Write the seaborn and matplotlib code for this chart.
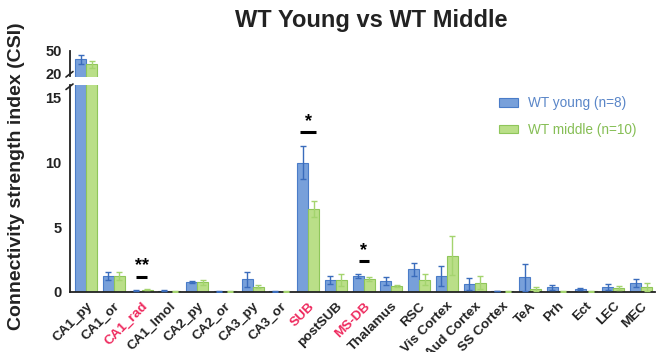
import matplotlib
matplotlib.use("Agg")
import matplotlib.pyplot as plt
from matplotlib.lines import Line2D
from matplotlib.container import BarContainer
import seaborn as sns
import pandas as pd
import numpy as np

# Regions (x categories)
regions = ["CA1_py", "CA1_or", "CA1_rad", "CA1_lmol", "CA2_py", "CA2_or",
           "CA3_py", "CA3_or", "SUB", "postSUB", "MS-DB", "Thalamus", "RSC",
           "Vis Cortex", "Aud Cortex", "SS Cortex", "TeA", "Prh", "Ect",
           "LEC", "MEC"]

# Mean CSI and SEM per group
young_mean = [39.0, 1.25, 0.08, 0.08, 0.77, 0.02, 0.98, 0.02, 10.0, 0.90, 1.23,
              0.82, 1.74, 1.23, 0.62, 0.05, 1.13, 0.34, 0.20, 0.36, 0.69]
young_sem = [5.5, 0.31, 0.02, 0.02, 0.08, 0.01, 0.58, 0.01, 1.30, 0.28, 0.17,
             0.28, 0.49, 0.77, 0.46, 0.02, 1.05, 0.17, 0.05, 0.23, 0.31]
middle_mean = [32.5, 1.20, 0.15, 0.02, 0.72, 0.02, 0.38, 0.01, 6.40, 0.90, 0.98,
               0.44, 0.92, 2.80, 0.69, 0.02, 0.23, 0.03, 0.03, 0.30, 0.36]
middle_sem = [4.5, 0.30, 0.03, 0.01, 0.20, 0.01, 0.12, 0.01, 0.60, 0.46, 0.17,
              0.10, 0.44, 1.50, 0.51, 0.01, 0.15, 0.02, 0.02, 0.14, 0.28]

group_labels = ["WT young (n=8)", "WT middle (n=10)"]
highlighted = ["CA1_rad", "SUB", "MS-DB"]

# Significance marks: (region, stars, line y, star y, half line width)
sig_marks = [("CA1_rad", "**", 1.16, 2.0, 0.2),
             ("SUB", "*", 12.4, 13.2, 0.3),
             ("MS-DB", "*", 2.38, 3.15, 0.18)]

df = pd.DataFrame({
    "region": regions * 2,
    "value": young_mean + middle_mean,
    "sem": young_sem + middle_sem,
    "group": [group_labels[0]] * len(regions) + [group_labels[1]] * len(regions),
})

fill_cols = ["#78A0DA", "#BADF88"]
edge_cols = ["#4A7CC8", "#8FC65A"]
err_cols = ["#3A6CBC", "#A4D46E"]
text_cols = ["#5A86C8", "#86BE55"]
dark = "#222222"
red = "#EE2A5E"

sns.set_style("white")
plt.rcParams["font.family"] = ["Liberation Sans", "DejaVu Sans"]

fig = plt.figure(figsize=(6.6, 3.52), dpi=100)
W, H = 660, 352


def fx(px):
    return px / W


def fy(py):
    return 1 - py / H


left, right = 70, 655
ax = fig.add_axes([fx(left), fy(291.7), fx(right - left), fy(85) - fy(291.7)])
ax_top = fig.add_axes([fx(left), fy(77), fx(right - left), fy(47) - fy(77)],
                      sharex=ax)

for a in (ax, ax_top):
    sns.barplot(data=df, x="region", y="value", hue="group", order=regions,
                hue_order=group_labels, palette=fill_cols, errorbar=None,
                saturation=1, linewidth=0.8, width=0.8, ax=a,
                legend=(a is ax), zorder=2)
    bars = [c for c in a.containers if isinstance(c, BarContainer)]
    for ci, cont in enumerate(bars):
        means = young_mean if ci == 0 else middle_mean
        sems = young_sem if ci == 0 else middle_sem
        xs = []
        for p in cont.patches:
            p.set_edgecolor(edge_cols[ci])
            xs.append(p.get_x() + p.get_width() / 2)
        a.errorbar(xs, means, yerr=sems, fmt="none", ecolor=err_cols[ci],
                   elinewidth=1.0, capsize=2.2, capthick=1.0, zorder=3)

# Lower panel
ax.set_ylim(0, 16)
ax.set_xlim(-0.58, len(regions) - 0.5)
ax.set_yticks([0, 5, 10, 15])
ax.spines["top"].set_visible(False)
ax.spines["right"].set_visible(False)
for s in ("left", "bottom"):
    ax.spines[s].set_color(dark)
    ax.spines[s].set_linewidth(1.3)
ax.spines["left"].set_bounds(0, 16)
ax.tick_params(axis="both", direction="out", length=4, width=1.2, color=dark,
               labelsize=10.5, labelcolor=dark, pad=2)
ax.tick_params(axis="x", labelsize=9.7)
ax.set_xlabel("")
ax.set_ylabel("")
ax.set_xticks(range(len(regions)))
ax.set_xticklabels(regions, rotation=45, ha="right", rotation_mode="anchor",
                   fontweight="bold")
for lab in ax.get_xticklabels():
    if lab.get_text() in highlighted:
        lab.set_color(red)
for lab in ax.get_yticklabels():
    lab.set_fontweight("bold")

# Upper panel (broken axis)
ax_top.set_ylim(16.1, 54.8)
ax_top.set_yticks([20, 50])
ax_top.spines["top"].set_visible(False)
ax_top.spines["right"].set_visible(False)
ax_top.spines["bottom"].set_visible(False)
ax_top.spines["left"].set_color(dark)
ax_top.spines["left"].set_linewidth(1.3)
ax_top.spines["left"].set_bounds(17.5, 50)
ax_top.tick_params(axis="y", direction="out", length=4, width=1.2, color=dark,
                   labelsize=10.5, labelcolor=dark, pad=2)
ax_top.tick_params(axis="x", bottom=False, labelbottom=False)
ax_top.set_xlabel("")
ax_top.set_ylabel("")
for lab in ax_top.get_yticklabels():
    lab.set_fontweight("bold")
ax_top.patch.set_alpha(0)

# Break slashes on the y axis
for (x0, y0, x1, y1) in [(66, 77, 73, 71.5), (66, 89.5, 73, 84)]:
    fig.add_artist(Line2D([fx(x0), fx(x1)], [fy(y0), fy(y1)],
                          transform=fig.transFigure, color=dark, lw=1.2))

# Significance marks
for reg, stars, ly, sy, hw in sig_marks:
    i = regions.index(reg)
    ax.plot([i - hw, i + hw], [ly, ly], color="black", lw=2.2,
            solid_capstyle="butt", zorder=4)
    ax.text(i, sy, stars, ha="center", va="center", fontsize=13,
            fontweight="bold", color="black")

# Legend
leg = ax.legend(loc="upper left", bbox_to_anchor=(fx(494), fy(91)),
                bbox_transform=fig.transFigure, frameon=False, fontsize=9.8,
                handlelength=1.35, handleheight=0.6, handletextpad=0.75,
                labelspacing=0.9, borderaxespad=0)
for txt, c in zip(leg.get_texts(), text_cols):
    txt.set_color(c)
for h, ec in zip(leg.legend_handles, edge_cols):
    h.set_edgecolor(ec)

fig.text(fx(371), fy(20), "WT Young vs WT Middle", ha="center", va="center",
         fontsize=17, fontweight="bold", color=dark)
fig.text(fx(17), fy(176), "Connectivity strength index (CSI)", ha="center",
         va="center", rotation=90, fontsize=14, fontweight="bold", color=dark)

fig.savefig("out.png", dpi=100)
